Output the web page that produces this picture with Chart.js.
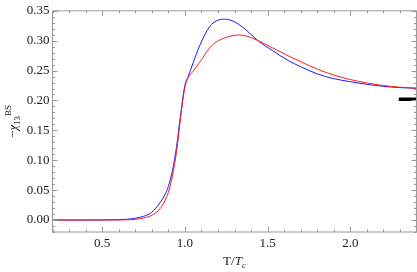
<!DOCTYPE html>
<html lang="en">
<head>
<meta charset="UTF-8">
<title>chi13 BS vs T/Tc</title>
<script src="https://cdn.jsdelivr.net/npm/chart.js"></script>
<style>
  body { margin: 0; background: #fff; }
</style>
</head>
<body>
<canvas id="chart" width="417" height="272"></canvas>
<script>
// T/Tc samples shared by both curves
const tValues = [0.2, 0.4, 0.5, 0.6, 0.65, 0.7, 0.75, 0.8, 0.85, 0.875, 0.9, 0.925, 0.95, 0.975,
  1.0, 1.02, 1.05, 1.09, 1.15, 1.19, 1.24, 1.29, 1.33, 1.37, 1.44, 1.53, 1.63, 1.7, 1.8, 1.9,
  2.0, 2.1, 2.2, 2.3, 2.4];
const blueValues = [0, 0, 0.0002, 0.0006, 0.0013, 0.003, 0.0062, 0.013, 0.029, 0.040, 0.056, 0.083, 0.123, 0.178,
  0.225, 0.240, 0.263, 0.292, 0.3236, 0.333, 0.336, 0.333, 0.3265, 0.318, 0.3005, 0.2834, 0.266, 0.2565, 0.2445, 0.2365,
  0.2314, 0.2270, 0.2236, 0.2215, 0.2204];
const redValues = [0, 0, 0.0001, 0.0002, 0.0004, 0.0012, 0.0035, 0.008, 0.019, 0.030, 0.046, 0.074, 0.115, 0.173,
  0.222, 0.238, 0.249, 0.264, 0.288, 0.298, 0.3045, 0.3085, 0.3095, 0.308, 0.3005, 0.288, 0.274, 0.265, 0.2525, 0.2425,
  0.2350, 0.2293, 0.2250, 0.2222, 0.2204];
// short black mark at the right edge
const markT = [2.293, 2.4];
const markValues = [0.202, 0.202];

const xTickValues = [0.5, 1.0, 1.5, 2.0];
const xTickLabels = ['0.5', '1.0', '1.5', '2.0'];
const yTickValues = [0, 0.05, 0.10, 0.15, 0.20, 0.25, 0.30, 0.35];
const yTickLabels = ['0.00', '0.05', '0.10', '0.15', '0.20', '0.25', '0.30', '0.35'];

const serif = "'Liberation Serif', 'DejaVu Serif', serif";
const textColor = '#1a1a1a';
const frameColor = '#999';

function pts(xs, ys) {
  return xs.map((x, i) => ({ x: x, y: ys[i] }));
}

// frame with inward ticks on all four sides (Mathematica style)
const framePlugin = {
  id: 'frame',
  afterDraw(chart) {
    const ctx = chart.ctx;
    const a = chart.chartArea;
    const xs = chart.scales.x, ys = chart.scales.y;
    ctx.save();
    ctx.strokeStyle = frameColor;
    ctx.lineWidth = 1;
    ctx.strokeRect(a.left, a.top, a.right - a.left, a.bottom - a.top);
    ctx.beginPath();
    for (let k = 2; k <= 24; k++) {
      const v = k / 10;
      const major = xTickValues.some(t => Math.abs(t - v) < 1e-6);
      const len = major ? 5 : 2.5;
      const px = Math.round(xs.getPixelForValue(v)) + 0.5;
      ctx.moveTo(px, a.bottom); ctx.lineTo(px, a.bottom - len);
      ctx.moveTo(px, a.top); ctx.lineTo(px, a.top + len);
    }
    for (let k = -2; k <= 35; k++) {
      const v = k / 100;
      const major = k % 5 === 0;
      const len = major ? 5 : 2.5;
      const py = Math.round(ys.getPixelForValue(v)) + 0.5;
      ctx.moveTo(a.left, py); ctx.lineTo(a.left + len, py);
      ctx.moveTo(a.right, py); ctx.lineTo(a.right - len, py);
    }
    ctx.stroke();

    // axis titles with sub/superscripts
    ctx.fillStyle = textColor;
    ctx.textBaseline = 'alphabetic';
    ctx.textAlign = 'left';
    function drawPieces(pieces, cx, cy) {
      let w = 0;
      pieces.forEach(p => { ctx.font = p.font; w += ctx.measureText(p.t).width; });
      let x = cx - w / 2;
      pieces.forEach(p => {
        ctx.font = p.font;
        ctx.fillText(p.t, x, cy + (p.dy || 0));
        x += ctx.measureText(p.t).width;
      });
    }
    drawPieces([
      { t: 'T/', font: '13px ' + serif },
      { t: 'T', font: 'italic 13px ' + serif },
      { t: 'c', font: 'italic 9px ' + serif, dy: 3 }
    ], (a.left + a.right) / 2, 265);

    ctx.translate(17, (a.top + a.bottom) / 2);
    ctx.rotate(-Math.PI / 2);
    drawPieces([
      { t: '\u2212', font: '13px ' + serif },
      { t: '\u03C7', font: 'italic 13px ' + serif },
      { t: '13', font: '9px ' + serif, dy: 3 },
      { t: 'BS', font: '9px ' + serif, dy: -6 }
    ], 0, 0);
    ctx.restore();
  }
};

const ctx = document.getElementById('chart').getContext('2d');
new Chart(ctx, {
  type: 'line',
  data: {
    datasets: [
      {
        label: 'red',
        data: pts(tValues, redValues),
        borderColor: '#ff1a1a',
        borderWidth: 1,
        pointRadius: 0,
        cubicInterpolationMode: 'monotone',
        fill: false
      },
      {
        label: 'blue',
        data: pts(tValues, blueValues),
        borderColor: '#1a1aff',
        borderWidth: 1,
        pointRadius: 0,
        cubicInterpolationMode: 'monotone',
        fill: false
      },
      {
        label: 'mark',
        data: pts(markT, markValues),
        borderColor: '#000',
        borderWidth: 3.5,
        pointRadius: 0,
        fill: false
      }
    ]
  },
  options: {
    responsive: false,
    animation: false,
    layout: { padding: { left: 0, right: 0.5, top: 6.5, bottom: 0 } },
    plugins: {
      legend: { display: false },
      tooltip: { enabled: false }
    },
    scales: {
      x: {
        type: 'linear',
        min: 0.2,
        max: 2.4,
        grid: { display: false, drawTicks: false },
        border: { display: false },
        afterBuildTicks: s => { s.ticks = xTickValues.map(v => ({ value: v })); },
        afterFit: s => { s.height = 40; },
        ticks: {
          padding: 4,
          color: textColor,
          font: { family: serif, size: 13 },
          maxRotation: 0,
          callback: v => xTickLabels[xTickValues.findIndex(t => Math.abs(t - v) < 1e-6)]
        }
      },
      y: {
        type: 'linear',
        min: -0.02,
        max: 0.35,
        grid: { display: false, drawTicks: false },
        border: { display: false },
        afterBuildTicks: s => { s.ticks = yTickValues.map(v => ({ value: v })); },
        afterFit: s => { s.width = 52.5; },
        ticks: {
          padding: 3,
          color: textColor,
          font: { family: serif, size: 13 },
          callback: v => yTickLabels[yTickValues.findIndex(t => Math.abs(t - v) < 1e-6)]
        }
      }
    }
  },
  plugins: [framePlugin]
});
</script>
</body>
</html>
